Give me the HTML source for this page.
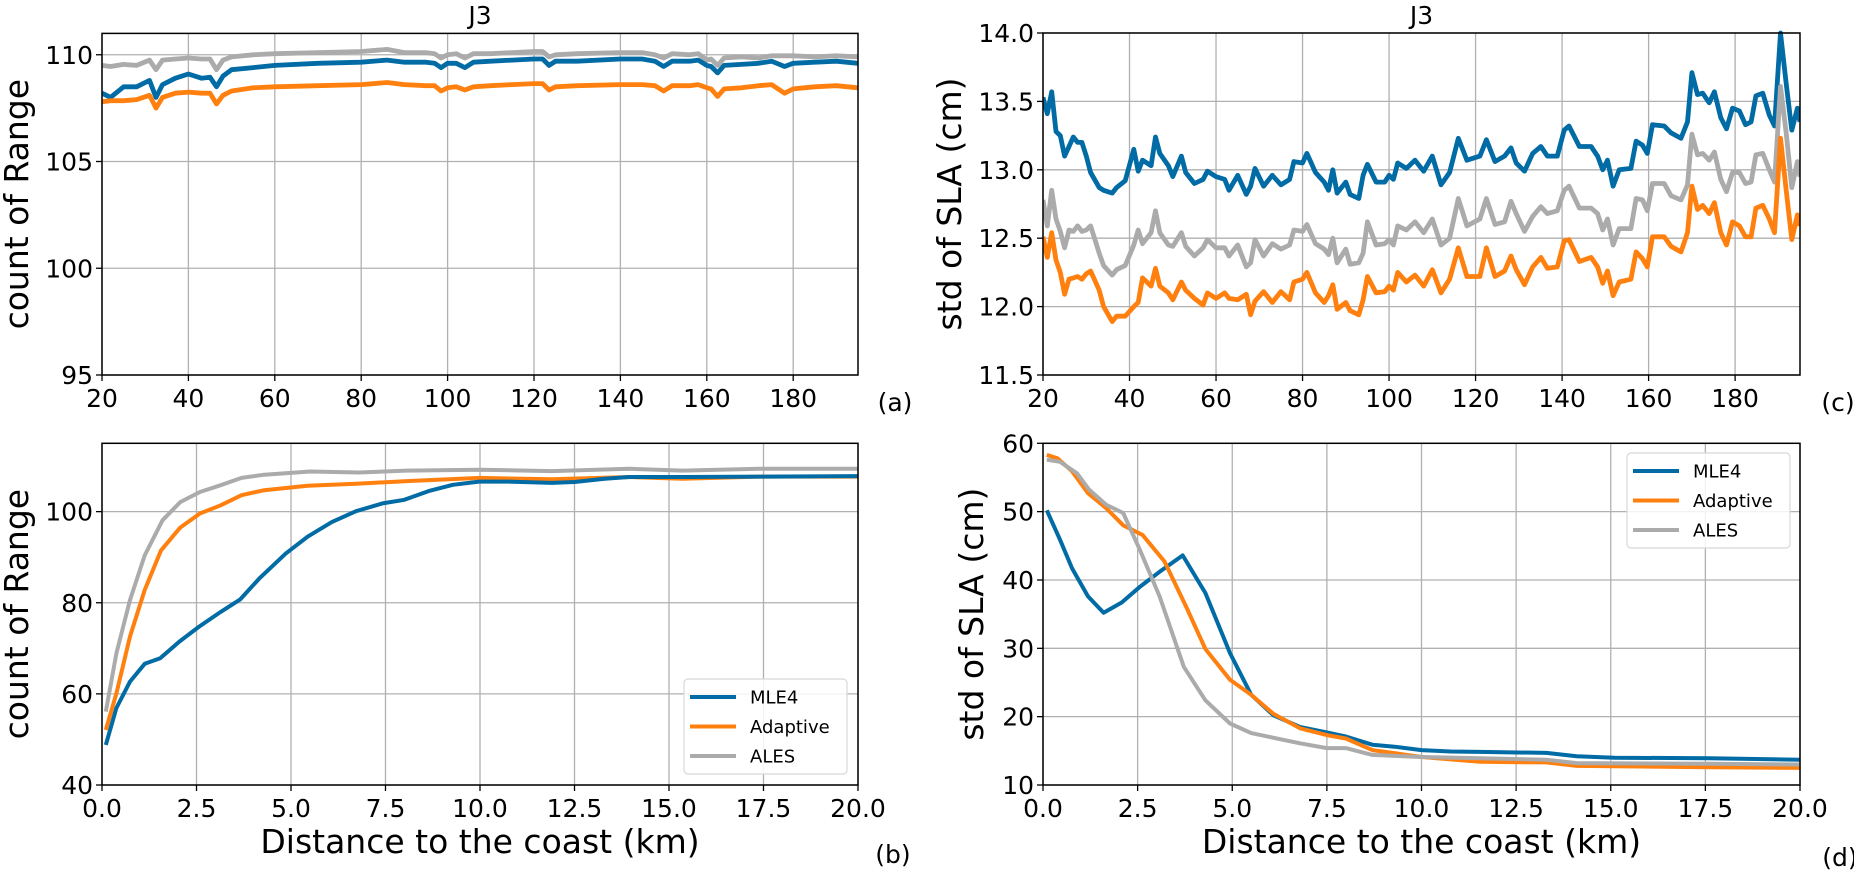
<!DOCTYPE html>
<html><head><meta charset="utf-8">
<style>
html,body{margin:0;padding:0;background:#fff;}
svg{display:block;font-family:"DejaVu Sans","Liberation Sans",sans-serif;}
</style></head>
<body>
<svg id="fig" width="1854" height="873" viewBox="0 0 1854 873" xmlns="http://www.w3.org/2000/svg"></svg>
<script>
// ---- Panel (a): count of Range vs distance 20-195 km ----
const aX = [20,22,25,28,31,32.5,34,37,40,43,45,46.5,48,50,55,60,70,80,86,90,95,97,98.5,100,102,104,106,110,115,120,122,123.5,125,130,140,145,148,150,152,156,158,160,161,162.5,164,168,172,175,178,180,185,190,195];
const aMLE4 = [108.2,108.0,108.5,108.5,108.8,108.0,108.6,108.9,109.1,108.9,108.95,108.5,109.0,109.3,109.4,109.5,109.6,109.65,109.75,109.65,109.65,109.6,109.4,109.6,109.6,109.4,109.65,109.7,109.75,109.8,109.8,109.5,109.7,109.7,109.8,109.8,109.7,109.45,109.7,109.7,109.75,109.5,109.45,109.15,109.5,109.55,109.6,109.7,109.45,109.6,109.65,109.7,109.6];
const aAdaptive = [107.8,107.85,107.85,107.9,108.1,107.5,108.0,108.2,108.25,108.2,108.2,107.7,108.1,108.3,108.45,108.5,108.55,108.6,108.7,108.6,108.55,108.55,108.3,108.45,108.5,108.35,108.5,108.55,108.6,108.65,108.65,108.35,108.5,108.55,108.6,108.6,108.55,108.3,108.55,108.55,108.6,108.45,108.4,108.05,108.4,108.45,108.55,108.6,108.2,108.4,108.5,108.55,108.45];
const aALES = [109.5,109.45,109.55,109.5,109.75,109.3,109.75,109.8,109.85,109.8,109.8,109.3,109.75,109.9,110.0,110.05,110.1,110.15,110.25,110.1,110.1,110.05,109.85,110.0,110.05,109.85,110.05,110.05,110.1,110.15,110.15,109.9,110.0,110.05,110.1,110.1,110.0,109.85,110.05,110.0,110.05,109.75,109.8,109.5,109.85,109.9,109.85,109.95,109.95,109.95,109.9,109.95,109.9];
const aXTicks = [20,40,60,80,100,120,140,160,180];
const aYTicks = [95,100,105,110];

// ---- Panel (c): std of SLA vs distance 20-195 km ----
const cX = [20,21,22,23,24,25,26,27,28,29,30,31,33,34,36,37,39,41,42,43,45,46,47,49,50,52,53,55,57,58,60,62,63,65,67,68,69,71,73,75,77,78,80,81,83,85,86,87,88,90,91,93,94,95,97,99,100,101,102,104,106,108,110,112,114,116,118,
121,122.5,124.5,126.7,128.2,129.4,131.3,133.2,135.1,136.6,138.9,140.5,141.6,144,146.7,148.2,149.4,150.5,151.8,153.2,155.9,157.1,158.6,159.7,160.9,163.6,165.2,167.5,169,170,171.3,172.5,174,175.2,176.7,178,179.4,181,182.4,183.7,184.8,186.4,187.9,189.1,190.5,191.8,193.1,194.4,195];
const cMLE4 = [13.53,13.41,13.57,13.28,13.25,13.1,13.17,13.24,13.2,13.2,13.1,12.98,12.87,12.85,12.83,12.87,12.92,13.15,12.99,13.07,13.03,13.24,13.12,13.03,12.95,13.1,12.98,12.9,12.93,12.99,12.95,12.93,12.85,12.96,12.82,12.88,13.01,12.88,12.96,12.89,12.93,13.06,13.05,13.12,12.98,12.91,12.85,13.0,12.83,12.91,12.82,12.79,12.96,13.04,12.91,12.91,12.96,12.93,13.05,13.01,13.07,12.99,13.1,12.89,12.98,13.23,13.07,
13.10,13.22,13.06,13.10,13.16,13.05,12.99,13.12,13.17,13.10,13.10,13.29,13.32,13.17,13.17,13.10,13.00,13.07,12.88,13.00,13.01,13.21,13.18,13.12,13.33,13.32,13.27,13.23,13.35,13.71,13.55,13.56,13.49,13.57,13.38,13.30,13.45,13.43,13.33,13.35,13.54,13.56,13.40,13.32,14.0,13.63,13.29,13.45,13.35];
const cAdaptive = [12.51,12.36,12.54,12.34,12.25,12.09,12.2,12.21,12.22,12.2,12.24,12.26,12.12,12.0,11.89,11.93,11.93,12.0,12.03,12.21,12.15,12.28,12.15,12.1,12.05,12.18,12.12,12.06,12.01,12.1,12.06,12.1,12.06,12.05,12.09,11.94,12.04,12.11,12.03,12.11,12.05,12.18,12.2,12.25,12.1,12.03,12.08,12.16,11.98,12.03,11.97,11.94,12.05,12.22,12.1,12.11,12.15,12.12,12.25,12.18,12.23,12.15,12.27,12.1,12.2,12.43,12.22,
12.22,12.43,12.22,12.26,12.37,12.27,12.16,12.29,12.36,12.28,12.29,12.48,12.49,12.33,12.36,12.29,12.17,12.26,12.08,12.18,12.20,12.40,12.35,12.29,12.51,12.51,12.44,12.40,12.54,12.88,12.71,12.74,12.68,12.76,12.54,12.45,12.62,12.59,12.51,12.51,12.72,12.74,12.64,12.54,13.23,12.85,12.49,12.67,12.59];
const cALES = [12.78,12.59,12.85,12.64,12.55,12.43,12.56,12.55,12.59,12.55,12.56,12.59,12.39,12.3,12.23,12.27,12.3,12.45,12.56,12.46,12.54,12.70,12.54,12.45,12.44,12.54,12.44,12.37,12.43,12.49,12.43,12.43,12.37,12.45,12.29,12.32,12.49,12.37,12.46,12.42,12.45,12.56,12.55,12.60,12.46,12.42,12.38,12.50,12.32,12.42,12.31,12.32,12.39,12.62,12.45,12.46,12.49,12.45,12.59,12.56,12.62,12.54,12.64,12.45,12.50,12.79,12.59,
12.64,12.79,12.60,12.62,12.77,12.68,12.55,12.66,12.73,12.68,12.70,12.85,12.88,12.72,12.72,12.68,12.56,12.64,12.45,12.57,12.57,12.79,12.78,12.70,12.90,12.90,12.81,12.78,12.89,13.26,13.11,13.12,13.07,13.13,12.93,12.84,12.98,12.98,12.90,12.91,13.11,13.12,13.0,12.91,13.61,13.27,12.87,13.06,12.95];
const cYTicks = [11.5,12.0,12.5,13.0,13.5,14.0];

// ---- Panel (b): count of Range vs distance 0-20 km ----
const bMLE4X = [0.1,0.38,0.74,1.13,1.54,2.05,2.56,3.14,3.65,4.16,4.86,5.44,6.08,6.72,7.42,8.0,8.64,9.28,9.98,10.75,11.9,12.5,13.3,13.95,15.4,17.4,20];
const bMLE4 = [48.8,56.9,62.7,66.6,67.8,71.5,74.7,78.0,80.7,85.3,90.8,94.5,97.7,100.1,101.8,102.6,104.5,105.9,106.6,106.6,106.3,106.5,107.2,107.6,107.6,107.7,107.8];
const bAdaptiveX = [0.1,0.38,0.74,1.13,1.56,2.07,2.59,3.14,3.69,4.29,5.44,6.72,8.06,10.0,11.9,13.95,15.36,17.4,20];
const bAdaptive = [52.1,60.1,72.6,82.8,91.5,96.5,99.6,101.4,103.6,104.7,105.7,106.1,106.7,107.4,107.1,107.6,107.2,107.7,107.7];
const bALESX = [0.1,0.38,0.74,1.13,1.6,2.07,2.59,3.14,3.69,4.29,5.0,5.5,6.79,8.06,10.0,11.9,13.95,15.36,17.4,20];
const bALES = [56.1,68.9,80.6,90.4,98.1,102.1,104.3,105.8,107.4,108.1,108.5,108.8,108.6,109.0,109.2,108.9,109.4,109.0,109.4,109.4];
const bYTicks = [40,60,80,100];
const dXTicks = [0,2.5,5,7.5,10,12.5,15,17.5,20];

// ---- Panel (d): std of SLA vs distance 0-20 km ----
const dMLE4X = [0.1,0.45,0.77,1.19,1.6,2.08,2.56,3.08,3.69,4.29,4.94,5.5,6.09,6.79,7.5,8.0,8.7,9.29,10.0,10.77,11.55,13.3,14.1,15.1,17.6,20];
const dMLE4 = [50.2,45.9,41.7,37.6,35.2,36.7,39.0,41.2,43.6,38.1,29.3,23.2,20.2,18.5,17.7,17.1,15.9,15.6,15.1,14.9,14.85,14.7,14.2,14.0,13.9,13.7];
const dAdaptiveX = [0.1,0.38,0.77,1.19,1.67,2.12,2.63,3.21,3.78,4.29,4.94,5.5,6.09,6.79,7.5,8.0,8.7,10.0,11.55,13.3,14.1,17.6,20];
const dAdaptive = [58.3,57.8,55.9,52.7,50.5,48.0,46.6,42.7,36.1,29.9,25.4,23.2,20.4,18.3,17.3,16.8,15.1,14.1,13.4,13.3,12.8,12.6,12.5];
const dALESX = [0.1,0.45,0.9,1.22,1.67,2.12,2.56,3.08,3.72,4.29,4.94,5.5,6.79,7.5,8.0,8.7,10.0,11.55,13.3,14.1,17.6,20];
const dALES = [57.6,57.3,55.6,53.2,51.0,49.8,44.4,37.6,27.3,22.4,19.0,17.6,16.1,15.4,15.4,14.4,14.1,13.9,13.7,13.2,13.1,13.0];
const dYTicks = [10,20,30,40,50,60];

const seriesNames = ["MLE4","Adaptive","ALES"];
const seriesColors = ["#006ba4","#ff800e","#ababab"];

const NS = "http://www.w3.org/2000/svg";
const svg = document.getElementById("fig");
function mk(tag, attrs, parent){ const e=document.createElementNS(NS,tag); for(const k in attrs) e.setAttribute(k,attrs[k]); (parent||svg).appendChild(e); return e; }
function txt(s, attrs, parent){ const e=mk("text",attrs,parent); e.textContent=s; return e; }

function panel(cfg){
  const g = mk("g",{});
  
  
  const sx = v => cfg.x0 + (v-cfg.xmin)/(cfg.xmax-cfg.xmin)*(cfg.x1-cfg.x0);
  const sy = v => cfg.y1 - (v-cfg.ymin)/(cfg.ymax-cfg.ymin)*(cfg.y1-cfg.y0);
  cfg.xticks.forEach(t=>{
    const l = mk("line",{x1:sx(t),x2:sx(t),y1:cfg.y0,y2:cfg.y1,stroke:"#b0b0b0","stroke-width":1.3},g);
    
    
  });
  cfg.yticks.forEach(t=>{
    const l = mk("line",{x1:cfg.x0,x2:cfg.x1,y1:sy(t),y2:sy(t),stroke:"#b0b0b0","stroke-width":1.3},g);
    
    
  });
  const clipId = cfg.name+"-clip";
  const cp = mk("clipPath",{id:clipId},g);
  mk("rect",{x:cfg.x0,y:cfg.y0-3,width:cfg.x1-cfg.x0,height:cfg.y1-cfg.y0+3},cp);
  const order = cfg.order || [0,1,2];
  order.forEach(i=>{
    const xs = cfg.xs[i], ys = cfg.ys[i];
    let d = "";
    xs.forEach((x,k)=>{ d += (k?"L":"M")+sx(x).toFixed(1)+","+sy(ys[k]).toFixed(1); });
    const p = mk("path",{d:d,fill:"none",stroke:seriesColors[i],"stroke-width":cfg.lw,"stroke-linejoin":"round","clip-path":"url(#"+clipId+")"},g);
    
    
  });
  const fr = mk("rect",{x:cfg.x0,y:cfg.y0,width:cfg.x1-cfg.x0,height:cfg.y1-cfg.y0,fill:"none",stroke:"#000","stroke-width":1.5},g);
  
  
  cfg.xticks.forEach((t,k)=>{
    mk("line",{x1:sx(t),x2:sx(t),y1:cfg.y1,y2:cfg.y1+6,stroke:"#000","stroke-width":1.3},g);
    const tl = txt(cfg.xlabels[k],{x:sx(t),y:cfg.y1+32,"text-anchor":"middle","font-size":25,fill:"#000"},g);
    
    
  });
  cfg.yticks.forEach((t,k)=>{
    mk("line",{x1:cfg.x0-6,x2:cfg.x0,y1:sy(t),y2:sy(t),stroke:"#000","stroke-width":1.3},g);
    const tl = txt(cfg.ylabels[k],{x:cfg.x0-9,y:sy(t)+9,"text-anchor":"end","font-size":25,fill:"#000"},g);
    
    
  });
  const yl = txt(cfg.ylabel,{x:0,y:0,"text-anchor":"middle","font-size":33,fill:"#000",transform:"translate("+cfg.ylx+","+((cfg.y0+cfg.y1)/2)+") rotate(-90)"},g);
  
  
  if(cfg.title){
    const t = txt(cfg.title,{x:(cfg.x0+cfg.x1)/2,y:24,"text-anchor":"middle","font-size":25,fill:"#000"},g);
    
    
  }
  if(cfg.xlabel){
    const t = txt(cfg.xlabel,{x:(cfg.x0+cfg.x1)/2,y:cfg.y1+68,"text-anchor":"middle","font-size":33,fill:"#000"},g);
    
    
  }
  const pl = txt(cfg.tag,{x:cfg.tagx,y:cfg.tagy,"text-anchor":"middle","font-size":25,fill:"#000"},g);
  
  
  if(cfg.legend){
    const L = cfg.legend;
    const lg = mk("g",{},g);
    
    
    mk("rect",{x:L.x,y:L.y,width:L.w,height:L.h,rx:4,fill:"#fff","fill-opacity":0.85,stroke:"#d8d8d8","stroke-width":1.2},lg);
    seriesNames.forEach((n,i)=>{
      const yy = L.y+18+i*29.5;
      const e = mk("g",{},lg);
      
      
      mk("line",{x1:L.x+6,x2:L.x+52,y1:yy,y2:yy,stroke:seriesColors[i],"stroke-width":4},e);
      txt(n,{x:L.x+66,y:yy+6.5,"font-size":18,fill:"#000"},e);
    });
  }
}

const kmTicks = aXTicks;
panel({name:"panel-a",x0:102,x1:858,y0:33.4,y1:375,xmin:20,xmax:195,ymin:95,ymax:111,
  xticks:kmTicks,xlabels:kmTicks.map(String),yticks:aYTicks,ylabels:aYTicks.map(String),
  xs:[aX,aX,aX],ys:[aMLE4,aAdaptive,aALES],order:[2,0,1],lw:4.8,
  ylabel:"count of Range",ylx:28,title:"J3",tag:"(a)",tagx:895,tagy:411});
panel({name:"panel-c",x0:1043,x1:1800,y0:33,y1:375,xmin:20,xmax:195,ymin:11.5,ymax:14.0,
  xticks:kmTicks,xlabels:kmTicks.map(String),yticks:cYTicks,ylabels:cYTicks.map(v=>v.toFixed(1)),
  xs:[cX,cX,cX],ys:[cMLE4,cAdaptive,cALES],order:[0,2,1],lw:4.8,
  ylabel:"std of SLA (cm)",ylx:961,title:"J3",tag:"(c)",tagx:1838,tagy:411});
panel({name:"panel-b",x0:102,x1:858,y0:443.3,y1:785,xmin:0,xmax:20,ymin:40,ymax:115,
  xticks:dXTicks,xlabels:dXTicks.map(v=>v.toFixed(1)),yticks:bYTicks,ylabels:bYTicks.map(String),
  xs:[bMLE4X,bAdaptiveX,bALESX],ys:[bMLE4,bAdaptive,bALES],order:[2,1,0],lw:4,
  ylabel:"count of Range",ylx:28,xlabel:"Distance to the coast (km)",tag:"(b)",tagx:893,tagy:863,
  legend:{x:684,y:679,w:163,h:95}});
panel({name:"panel-d",x0:1043,x1:1800,y0:443.3,y1:785,xmin:0,xmax:20,ymin:10,ymax:60,
  xticks:dXTicks,xlabels:dXTicks.map(v=>v.toFixed(1)),yticks:dYTicks,ylabels:dYTicks.map(String),
  xs:[dMLE4X,dAdaptiveX,dALESX],ys:[dMLE4,dAdaptive,dALES],order:[0,1,2],lw:4,
  ylabel:"std of SLA (cm)",ylx:983,xlabel:"Distance to the coast (km)",tag:"(d)",tagx:1840,tagy:866,
  legend:{x:1627,y:453,w:163,h:95}});
</script>
</body></html>
